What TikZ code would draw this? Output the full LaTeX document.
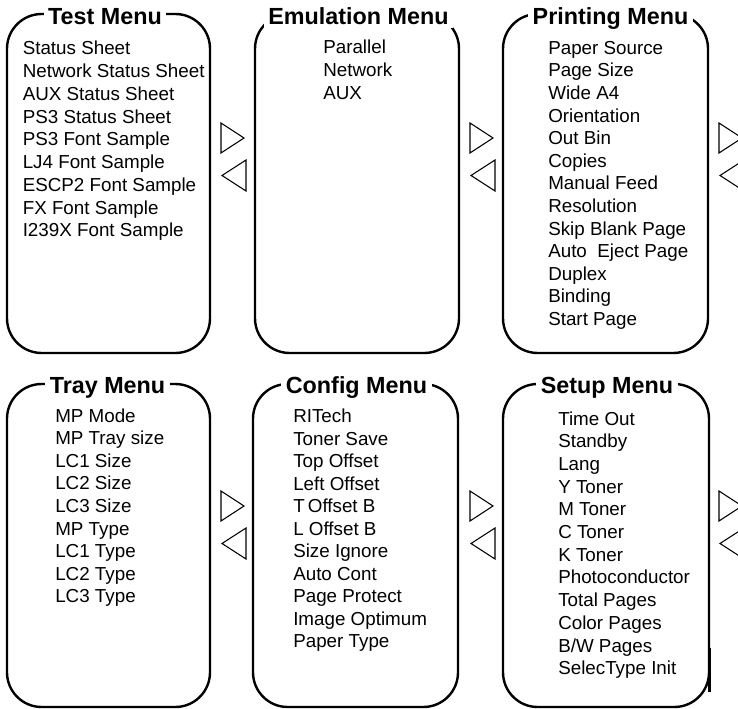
\documentclass[tikz,border=0pt]{standalone}
\usepackage{fontspec}
\setmainfont{Liberation Sans}
\tikzset{
  px/.style={x=0.75pt,y=-0.75pt},
  frame/.style={draw=black, line width=1.8pt, rounded corners=26pt},
  menutitle/.style={font=\fontsize{17.5}{20}\selectfont\bfseries, fill=white, inner xsep=3.5pt, inner ysep=0.5pt, text depth=0.2em, anchor=base},
  item/.style={font=\fontsize{14.1}{16}\selectfont, inner sep=0pt, anchor=base west},
  tri/.style={draw=black, line width=0.8pt, line join=miter},
}
\newcommand\menulist[5]{%
  \foreach \itm [count=\i] in {#5} {\node[item] (#1-\i) at ({#2},{#3+(\i-1)*#4}) {\itm};}}
\newcommand\rtri[2]{\draw[tri] (#1,#2) -- ++(23,15) -- ++(-23,15) -- cycle;}
\newcommand\ltri[2]{\draw[tri] ({#1+24},#2) -- ++(-24,15.5) -- ++(24,15.5) -- cycle;}
\begin{document}
\begin{tikzpicture}[px]
\useasboundingbox (0,0) rectangle (738,709);
\clip (0,0) rectangle (738,709);
\fill[white] (0,0) rectangle (738,709);
% frames
\draw[frame] (7,14) rectangle (210,353);
\draw[frame] (255,14) rectangle (459,353);
\draw[frame] (503,14) rectangle (708,353);
\draw[frame] (7,384) rectangle (210,707);
\draw[frame] (253,384) rectangle (458,707);
\draw[frame] (503,384) rectangle (709,707);
\draw[line width=2.6pt] (709.5,648) -- (709.5,692);
% titles
\node[menutitle] (test) at (105,25) {Test Menu};
\node[menutitle] (emul) at (358.5,25) {Emulation Menu};
\node[menutitle] (print) at (610.5,25) {Printing Menu};
\node[menutitle] (tray) at (107.5,393) {Tray Menu};
\node[menutitle] (config) at (356.5,393) {Config Menu};
\node[menutitle] (setup) at (607,393) {Setup Menu};
% items
\menulist{te}{22.5}{55}{22.75}{Status Sheet,Network Status Sheet,AUX Status Sheet,PS3 Status Sheet,PS3 Font Sample,LJ4 Font Sample,ESCP2 Font Sample,FX Font Sample,I239X Font Sample}
\menulist{em}{323}{54}{22.6}{Parallel,Network,AUX}
\menulist{pr}{548}{54.3}{22.6}{Paper Source,Page Size,Wide A4,Orientation,Out Bin,Copies,Manual Feed,Resolution,Skip Blank Page,Auto~~Eject Page,Duplex,Binding,Start Page}
\menulist{tr}{55}{422}{22.6}{MP Mode,MP Tray size,LC1 Size,LC2 Size,LC3 Size,MP Type,LC1 Type,LC2 Type,LC3 Type}
\menulist{co}{293}{422.7}{22.5}{RITech,Toner Save,Top Offset,Left Offset,T\,Offset B,L Offset B,Size Ignore,Auto Cont,Page Protect,Image Optimum,Paper Type}
\menulist{se}{558}{425}{22.7}{Time Out,Standby,Lang,Y Toner,M Toner,C Toner,K Toner,Photoconductor,Total Pages,Color Pages,B/W Pages,SelecType Init}
% triangles
\rtri{221}{123} \ltri{222}{160}
\rtri{470}{123} \ltri{471}{160}
\rtri{719}{123} \ltri{720}{160}
\rtri{221}{491} \ltri{222}{528}
\rtri{470}{491} \ltri{471}{528}
\rtri{719}{491} \ltri{720}{528}
\end{tikzpicture}
\end{document}
